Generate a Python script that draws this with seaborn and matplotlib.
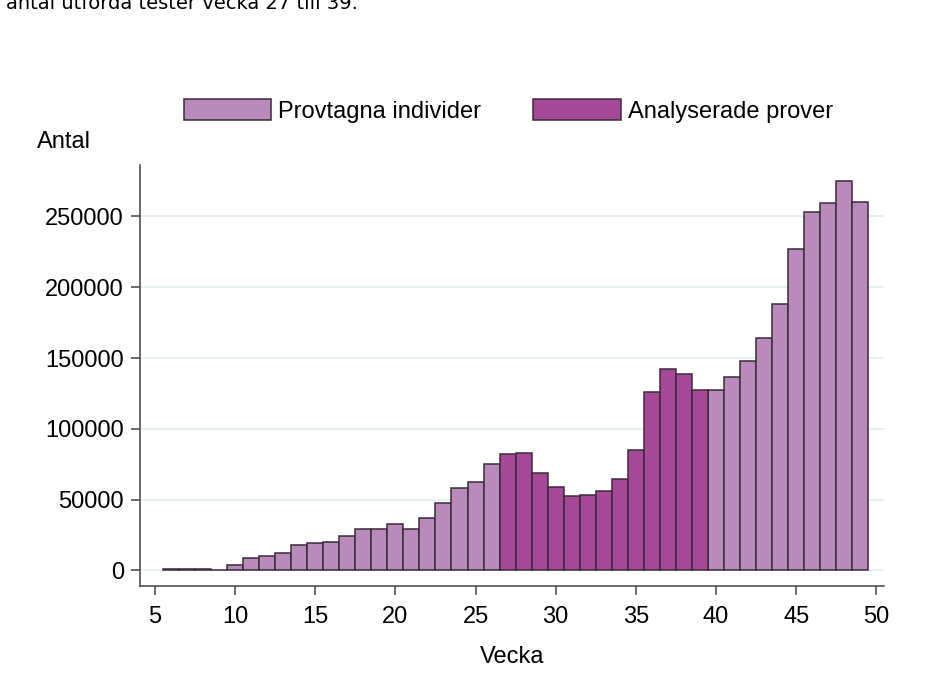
import pandas as pd
import matplotlib.pyplot as plt
import seaborn as sns

# weekly counts
weeks = list(range(6, 50))
counts = [700, 700, 700, 100, 3800, 9000, 10400, 12200, 17600, 19500,
          20000, 24500, 29000, 29200, 33000, 29200, 37000, 47800, 58400, 62100,
          75000, 82200, 82700, 69000, 58900, 52600, 53500, 56300, 64800, 84700,
          125700, 141900, 138800, 127100, 127100, 136400, 147600, 163800, 188500, 227300,
          253400, 259800, 275300, 260300]
analysed_weeks = range(27, 40)
groups = ["Analyserade prover" if w in analysed_weeks else "Provtagna individer" for w in weeks]
yticks = [0, 50000, 100000, 150000, 200000, 250000]
xticks = [5, 10, 15, 20, 25, 30, 35, 40, 45, 50]

colors = {"Provtagna individer": "#b98bbb", "Analyserade prover": "#a64a98"}
edge = "#3b2b3b"

df = pd.DataFrame({"Vecka": weeks, "Antal": counts, "grupp": groups})

sns.set_style("white")
plt.rcParams["font.family"] = ["Liberation Sans", "DejaVu Sans"]
plt.rcParams["text.color"] = "black"
plt.rcParams["xtick.color"] = "black"
plt.rcParams["ytick.color"] = "black"
plt.rcParams["axes.labelcolor"] = "black"

fig = plt.figure(figsize=(9.26, 6.82), dpi=100)
ax = fig.add_axes([0.151, 0.141, 0.804, 0.617])

sns.barplot(data=df, x="Vecka", y="Antal", hue="grupp", palette=colors,
            hue_order=["Provtagna individer", "Analyserade prover"],
            native_scale=True, dodge=False, width=1.0, edgecolor=edge,
            linewidth=1.1, saturation=1, legend=False, ax=ax)

ax.set_xlim(4.06, 50.5)
ax.set_ylim(-10900, 286300)
ax.set_xticks(xticks)
ax.set_xticklabels([str(t) for t in xticks])
ax.set_yticks(yticks)
ax.set_yticklabels([str(t) for t in yticks])
ax.tick_params(axis="both", labelsize=17, length=6.5, width=1.1, color="#444444",
               direction="out", left=True, bottom=True)
ax.tick_params(axis="y", pad=5)
ax.tick_params(axis="x", pad=8)
ax.yaxis.grid(True, color="#e6eef0", linewidth=1.3)
ax.set_axisbelow(True)
for s in ["top", "right"]:
    ax.spines[s].set_visible(False)
for s in ["left", "bottom"]:
    ax.spines[s].set_color("#444444")
    ax.spines[s].set_linewidth(1.1)

ax.set_xlabel("Vecka", fontsize=17, labelpad=13)
ax.set_ylabel("")
fig.text(37 / 926, 1 - 142 / 682, "Antal", fontsize=17, va="center", ha="left")

# legend above the axes
handles = [plt.Rectangle((0, 0), 1, 1, facecolor=colors[k], edgecolor=edge, linewidth=1.1)
           for k in ["Provtagna individer", "Analyserade prover"]]
fig.legend(handles, ["Provtagna individer", "Analyserade prover"], loc="center",
           bbox_to_anchor=(0.549, 1 - 111 / 682), ncol=2, frameon=False, fontsize=17,
           handlelength=3.7, handleheight=1.0, handletextpad=0.3, columnspacing=2.2)

# caption line of the page above, cut off at the top as in the reference
fig.text(0.006, 1 - 9 / 682, "antal utförda tester vecka 27 till 39.", fontsize=14,
         va="baseline", ha="left", family="DejaVu Sans")

plt.savefig("out.png", dpi=100)
